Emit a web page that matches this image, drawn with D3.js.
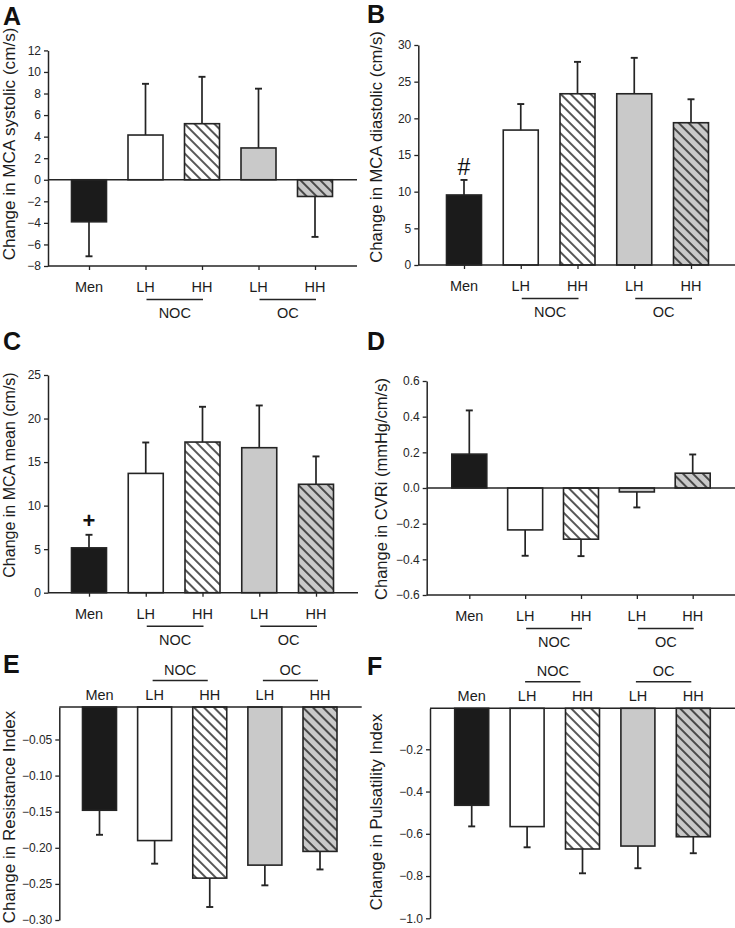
<!DOCTYPE html>
<html>
<head>
<meta charset="utf-8">
<script src="https://cdn.jsdelivr.net/npm/d3@7/dist/d3.min.js"></script>
<style>
  html, body { margin: 0; padding: 0; background: #fff; }
  svg { display: block; }
  text { font-family: "Liberation Sans", Arial, Helvetica, sans-serif; fill: #1c1c1c; }
</style>
</head>
<body>
<svg id="chart" width="735" height="928"></svg>
<script>
// ---------------- data ----------------
const categories = ["Men", "LH", "HH", "LH", "HH"];
const groupLabels = ["NOC", "OC"];
const fillKinds = ["black", "white", "whiteHatch", "grey", "greyHatch"];

const systolicMean = [-3.9, 4.15, 5.2, 2.95, -1.55];
const systolicErr  = [3.2, 4.75, 4.35, 5.5, 3.75];
const systolicTicks = [-8, -6, -4, -2, 0, 2, 4, 6, 8, 10, 12];

const diastolicMean = [9.55, 18.4, 23.35, 23.35, 19.4];
const diastolicErr  = [2.05, 3.55, 4.35, 4.9, 3.2];
const diastolicTicks = [0, 5, 10, 15, 20, 25, 30];

const meanMean = [5.15, 13.7, 17.3, 16.65, 12.45];
const meanErr  = [1.5, 3.55, 4.05, 4.85, 3.2];
const meanTicks = [0, 5, 10, 15, 20, 25];

const cvriMean = [0.19, -0.235, -0.287, -0.022, 0.083];
const cvriErr  = [0.245, 0.145, 0.095, 0.087, 0.105];
const cvriTicks = [-0.6, -0.4, -0.2, 0.0, 0.2, 0.4, 0.6];

const riMean = [-0.148, -0.19, -0.242, -0.224, -0.205];
const riErr  = [0.034, 0.032, 0.04, 0.028, 0.025];
const riTicks = [-0.05, -0.10, -0.15, -0.20, -0.25, -0.30];

const piMean = [-0.465, -0.566, -0.672, -0.658, -0.614];
const piErr  = [0.1, 0.098, 0.115, 0.105, 0.078];
const piTicks = [-0.2, -0.4, -0.6, -0.8, -1.0];

// ---------------- layout ----------------
const panels = [
  { letter: "A", lx: 3, ly: 25, x0: 48, x1: 357, c0: 89, c4: 315, yTop: 50.4, yBot: 266,
    domain: [-8, 12], ticks: systolicTicks, fmt: d3.format("d"), mean: systolicMean, err: systolicErr,
    label: "Change in MCA systolic (cm/s)", labX: 15, labY: 144, labSize: 17.1, catsTop: false, zeroLine: true },
  { letter: "B", lx: 367, ly: 23, x0: 418.3, x1: 740, c0: 464, c4: 691, yTop: 45, yBot: 265,
    domain: [0, 30], ticks: diastolicTicks, fmt: d3.format("d"), mean: diastolicMean, err: diastolicErr,
    label: "Change in MCA diastolic (cm/s)", labX: 382, labY: 147, labSize: 16.6, catsTop: false, zeroLine: false,
    symbol: { text: "#", idx: 0, dy: -5, size: 23, weight: "normal" } },
  { letter: "C", lx: 3, ly: 350, x0: 48, x1: 358, c0: 89, c4: 316, yTop: 375, yBot: 592.7,
    domain: [0, 25], ticks: meanTicks, fmt: d3.format("d"), mean: meanMean, err: meanErr,
    label: "Change in MCA mean (cm/s)", labX: 15, labY: 475, labSize: 16, catsTop: false, zeroLine: false,
    symbol: { text: "+", idx: 0, dy: -7, size: 22, weight: "bold" } },
  { letter: "D", lx: 367, ly: 350, x0: 426.7, x1: 740, c0: 469.3, c4: 692.7, yTop: 381, yBot: 595,
    domain: [-0.6, 0.6], ticks: cvriTicks, fmt: d3.format(".1f"), mean: cvriMean, err: cvriErr,
    label: "Change in CVRi (mmHg/cm/s)", labX: 387, labY: 489, labSize: 16.5, catsTop: false, zeroLine: true },
  { letter: "E", lx: 3, ly: 673, x0: 59.3, x1: 361.7, c0: 99.5, c4: 320, yTop: 707, yBot: 920,
    domain: [-0.30, -0.005], ticks: riTicks, fmt: d3.format(".2f"), mean: riMean, err: riErr,
    label: "Change in Resistance Index", labX: 15, labY: 817, labSize: 17, catsTop: true, zeroLine: false },
  { letter: "F", lx: 367, ly: 675, x0: 430, x1: 740, c0: 471.7, c4: 693.3, yTop: 708.3, yBot: 918.3,
    domain: [-1.0, -0.006], ticks: piTicks, fmt: d3.format(".1f"), mean: piMean, err: piErr,
    label: "Change in Pulsatility Index", labX: 382, labY: 812, labSize: 16.7, catsTop: true, zeroLine: false }
];

const INK = "#242424";
const svg = d3.select("#chart");

// hatch patterns
const defs = svg.append("defs");
function hatch(id, bg) {
  const p = defs.append("pattern").attr("id", id).attr("patternUnits", "userSpaceOnUse")
    .attr("width", 7).attr("height", 7).attr("patternTransform", "rotate(-45)");
  p.append("rect").attr("width", 7).attr("height", 7).attr("fill", bg);
  p.append("line").attr("x1", 1).attr("y1", -1).attr("x2", 1).attr("y2", 8)
    .attr("stroke", "#1e1e1e").attr("stroke-width", 1.5);
}
hatch("hatchWhite", "#ffffff");
hatch("hatchGrey", "#c9c9c9");
const fillOf = { black: "#1b1b1b", white: "#ffffff", whiteHatch: "url(#hatchWhite)", grey: "#c9c9c9", greyHatch: "url(#hatchGrey)" };

panels.forEach(p => {
  const g = svg.append("g");
  const y = d3.scaleLinear().domain(p.domain).range([p.yBot, p.yTop]);
  const x = d3.scaleLinear().domain([0, categories.length - 1]).range([p.c0, p.c4]);
  const barW = p.catsTop ? 34 : 35;
  const base = p.catsTop ? p.domain[1] : 0;

  g.append("text").attr("x", p.lx).attr("y", p.ly).attr("font-size", 25).attr("font-weight", "bold")
    .style("fill", "#111").text(p.letter);

  g.append("text").attr("transform", `translate(${p.labX},${p.labY}) rotate(-90)`)
    .attr("text-anchor", "middle").attr("font-size", p.labSize).text(p.label);

  const idx = d3.range(categories.length);
  g.selectAll("rect.bar").data(idx).join("rect").attr("class", "bar")
    .attr("x", i => x(i) - barW / 2)
    .attr("y", i => Math.min(y(p.mean[i]), y(base)))
    .attr("width", barW)
    .attr("height", i => Math.abs(y(p.mean[i]) - y(base)))
    .attr("fill", i => fillOf[fillKinds[i]])
    .attr("stroke", INK).attr("stroke-width", 1.6);

  idx.forEach(i => {
    const v = p.mean[i];
    const dir = v >= base ? 1 : -1;
    const end = v + dir * p.err[i];
    g.append("line").attr("x1", x(i)).attr("x2", x(i)).attr("y1", y(v)).attr("y2", y(end))
      .attr("stroke", INK).attr("stroke-width", 1.7);
    g.append("line").attr("x1", x(i) - 3.5).attr("x2", x(i) + 3.5).attr("y1", y(end)).attr("y2", y(end))
      .attr("stroke", INK).attr("stroke-width", 1.9);
  });

  const ya = g.append("g").attr("transform", `translate(${p.x0},0)`)
    .call(d3.axisLeft(y).tickValues(p.ticks).tickFormat(p.fmt).tickSize(4).tickSizeOuter(0).tickPadding(3));
  ya.select(".domain").attr("stroke", INK).attr("stroke-width", 1.5);
  ya.selectAll(".tick line").attr("stroke", INK).attr("stroke-width", 1.3);
  ya.selectAll(".tick text").attr("font-size", 12).attr("font-family", "Liberation Sans, Arial, sans-serif").style("fill", "#262626");

  if (p.catsTop) {
    g.append("line").attr("x1", p.x0).attr("x2", p.x1).attr("y1", p.yTop).attr("y2", p.yTop)
      .attr("stroke", INK).attr("stroke-width", 1.5);
    g.selectAll("text.cat").data(idx).join("text").attr("class", "cat")
      .attr("x", i => x(i)).attr("y", p.yTop - 7).attr("text-anchor", "middle").attr("font-size", 14.5)
      .text(i => categories[i]);
    groupLabels.forEach((lab, k) => {
      const a = x(1 + 2 * k), b = x(2 + 2 * k);
      g.append("line").attr("x1", a - 2).attr("x2", b - 2).attr("y1", p.yTop - 26.5).attr("y2", p.yTop - 26.5)
        .attr("stroke", INK).attr("stroke-width", 1.4);
      g.append("text").attr("x", (a + b) / 2 - 2).attr("y", p.yTop - 32).attr("text-anchor", "middle")
        .attr("font-size", 14.5).text(lab);
    });
  } else {
    if (p.zeroLine) {
      g.append("line").attr("x1", p.x0).attr("x2", p.x1).attr("y1", y(0)).attr("y2", y(0))
        .attr("stroke", INK).attr("stroke-width", 1.5);
    }
    const xa = g.append("g").attr("transform", `translate(0,${p.yBot})`)
      .call(d3.axisBottom(x).tickValues(idx).tickFormat("").tickSize(4).tickSizeOuter(0));
    xa.select(".domain").remove();
    xa.selectAll(".tick line").attr("stroke", INK).attr("stroke-width", 1.3);
    g.append("line").attr("x1", p.x0).attr("x2", p.x1).attr("y1", p.yBot).attr("y2", p.yBot)
      .attr("stroke", INK).attr("stroke-width", 1.5);
    g.selectAll("text.cat").data(idx).join("text").attr("class", "cat")
      .attr("x", i => x(i)).attr("y", p.yBot + 26).attr("text-anchor", "middle").attr("font-size", 14.5)
      .text(i => categories[i]);
    groupLabels.forEach((lab, k) => {
      const a = x(1 + 2 * k), b = x(2 + 2 * k);
      g.append("line").attr("x1", a + 1).attr("x2", b + 1).attr("y1", p.yBot + 33.5).attr("y2", p.yBot + 33.5)
        .attr("stroke", INK).attr("stroke-width", 1.4);
      g.append("text").attr("x", (a + b) / 2 + 1).attr("y", p.yBot + 52).attr("text-anchor", "middle")
        .attr("font-size", 14.5).text(lab);
    });
  }

  if (p.symbol) {
    const s = p.symbol;
    const top = p.mean[s.idx] + p.err[s.idx];
    g.append("text").attr("x", x(s.idx)).attr("y", y(top) + s.dy).attr("text-anchor", "middle")
      .attr("font-size", s.size).attr("font-weight", s.weight).style("fill", "#111").text(s.text);
  }
});
</script>
</body>
</html>
